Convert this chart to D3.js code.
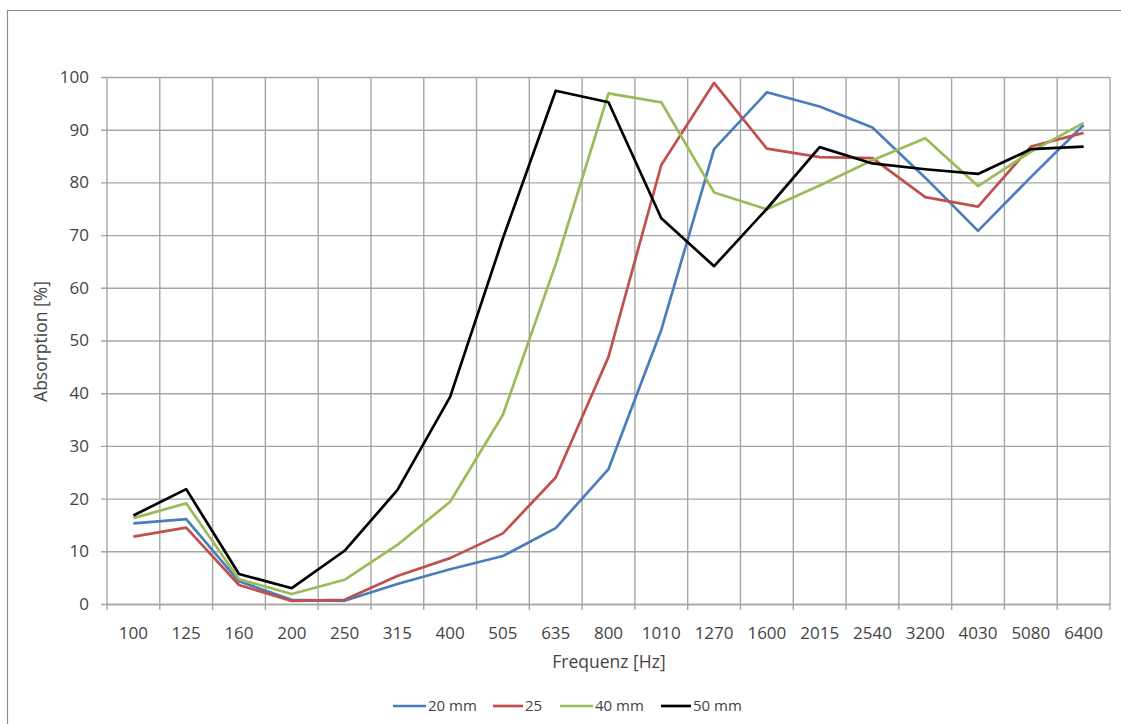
<!DOCTYPE html>
<html>
<head>
<meta charset="utf-8">
<script src="https://cdn.jsdelivr.net/npm/d3@7"></script>
<style>
  html, body { margin: 0; background: #fff; overflow: hidden; }
  svg { display: block; }
  text { font-family: "Open Sans", "Noto Sans", sans-serif; fill: #444; }
</style>
</head>
<body>
<script>
// categories and series values
var freqs = ["100","125","160","200","250","315","400","505","635","800","1010","1270","1600","2015","2540","3200","4030","5080","6400"];
var mm20 = [15.3,16.1,4.3,0.8,0.6,3.8,6.6,9.1,14.4,25.6,52,86.3,97.1,94.4,90.4,80.9,70.8,81,90.9];
var mm25 = [12.8,14.5,3.6,0.6,0.8,5.3,8.7,13.4,24.0,46.9,83.3,98.9,86.4,84.8,84.6,77.2,75.4,86.8,89.4];
var mm40 = [16.3,19.1,4.7,1.9,4.6,11.2,19.4,35.9,64.5,96.9,95.2,78.1,74.9,79.4,84.2,88.4,79.3,85.8,91.3];
var mm50 = [16.8,21.8,5.7,3.0,10.1,21.6,39.3,69.4,97.4,95.2,73.2,64.1,75,86.7,83.6,82.5,81.6,86.3,86.8];
var seriesNames = ["20 mm","25","40 mm","50 mm"];
var seriesColors = ["#4a7ebb","#c0504d","#9bbb59","#000000"];
var yTicks = [0,10,20,30,40,50,60,70,80,90,100];

var width = 1121, height = 724;
// plot box (note: "top" would clash with window.top)
var plotLeft = 107, plotRight = 1110, plotTop = 77, plotBottom = 604;
var gridColor = "#a6a6a6";

var svg = d3.select("body").append("svg")
    .attr("width", width)
    .attr("height", height);

// outer frame: only top and left edges are inside the crop
svg.append("path")
    .attr("d", "M7.5," + height + "V10.5H" + width)
    .attr("fill", "none")
    .attr("stroke", "#8c8c8c")
    .attr("stroke-width", 1.2);

var x = d3.scaleBand().domain(freqs).range([plotLeft, plotRight]);
var y = d3.scaleLinear().domain([0, 100]).range([plotBottom, plotTop]);

// horizontal grid + y ticks
svg.append("g")
    .attr("transform", "translate(" + plotLeft + ",0)")
    .call(d3.axisLeft(y).tickValues(yTicks).tickSize(-(plotRight - plotLeft)).tickPadding(10)
        .tickSizeOuter(0))
    .call(function(g){
        g.select(".domain").remove();
        g.selectAll(".tick line").attr("stroke", gridColor).attr("stroke-width", 1.4)
            .attr("x1", -6);
        g.selectAll(".tick text").attr("font-size", 17).attr("x", -18).attr("fill", "#444");
    });

// vertical grid at category boundaries
var bounds = freqs.map(function(f){ return x(f); }).concat([plotRight]);
svg.append("g").selectAll("line")
    .data(bounds)
    .enter().append("line")
    .attr("x1", function(d){ return d; })
    .attr("x2", function(d){ return d; })
    .attr("y1", plotTop)
    .attr("y2", plotBottom + 6)
    .attr("stroke", gridColor)
    .attr("stroke-width", 1.4);

// x axis labels
svg.append("g")
    .attr("transform", "translate(0," + plotBottom + ")")
    .call(d3.axisBottom(x).tickSize(0).tickPadding(23))
    .call(function(g){
        g.select(".domain").attr("stroke", gridColor).attr("stroke-width", 1.4);
        g.selectAll(".tick text").attr("font-size", 17).attr("fill", "#444");
    });

// axis titles
svg.append("text")
    .attr("x", 609)
    .attr("y", 668)
    .attr("text-anchor", "middle")
    .attr("font-size", 17.5)
    .text("Frequenz [Hz]");

svg.append("text")
    .attr("transform", "translate(47," + ((plotTop + plotBottom) / 2 + 1) + ") rotate(-90)")
    .attr("text-anchor", "middle")
    .attr("font-size", 17.5)
    .text("Absorption [%]");

// series lines
var allSeries = [mm20, mm25, mm40, mm50];
var line = d3.line()
    .x(function(d, i){ return x(freqs[i]) + x.bandwidth() / 2; })
    .y(function(d){ return y(d); });

svg.append("g").selectAll("path")
    .data(allSeries)
    .enter().append("path")
    .attr("d", line)
    .attr("fill", "none")
    .attr("stroke", function(d, i){ return seriesColors[i]; })
    .attr("stroke-width", 2.7)
    .attr("stroke-linejoin", "round");

// legend
var legendX = [393, 493, 560, 661];
var legendLen = [33, 30, 33, 30];
var legend = svg.append("g").selectAll("g")
    .data(seriesNames)
    .enter().append("g")
    .attr("transform", function(d, i){ return "translate(" + legendX[i] + ",706)"; });

legend.append("line")
    .attr("x1", 0).attr("x2", function(d, i){ return legendLen[i]; })
    .attr("stroke", function(d, i){ return seriesColors[i]; })
    .attr("stroke-width", 2.7);

legend.append("text")
    .attr("x", function(d, i){ return legendLen[i] + 2; })
    .attr("dy", "0.35em")
    .attr("font-size", 15)
    .text(function(d){ return d; });
</script>
</body>
</html>
